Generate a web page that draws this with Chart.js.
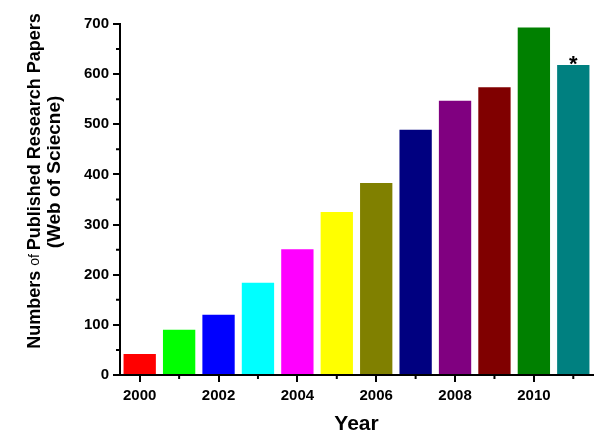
<!DOCTYPE html>
<html>
<head>
<meta charset="utf-8">
<script src="https://cdn.jsdelivr.net/npm/chart.js@4.4.1/dist/chart.umd.min.js"></script>
<style>
  html, body { margin: 0; padding: 0; background: #fff; }
  #wrap { width: 600px; height: 437px; position: relative; }
</style>
</head>
<body>
<div id="wrap"><canvas id="chart"></canvas></div>
<script>
const years = ["2000", "2001", "2002", "2003", "2004", "2005", "2006", "2007", "2008", "2009", "2010", "2011"];
const papers = [42, 90, 120, 184, 251, 325, 383, 489, 547, 574, 693, 618];
const barColors = ["#ff0000", "#00ff00", "#0000ff", "#00ffff", "#ff00ff", "#ffff00",
  "#808000", "#000080", "#800080", "#800000", "#008000", "#008080"];
const markedYears = ["2011"];

const FONT = "'Liberation Sans', Arial, sans-serif";

// short minor ticks + the y title (mixed weights) + asterisk
const extras = {
  id: "extras",
  afterDraw(chart) {
    const c = chart.ctx;
    const x = chart.scales.x, y = chart.scales.y;
    c.save();
    c.strokeStyle = "#000";
    c.lineWidth = 2;
    c.beginPath();
    x.ticks.forEach((t, i) => {
      if (i % 2 === 1) {
        const px = x.getPixelForTick(i);
        c.moveTo(px, y.bottom);
        c.lineTo(px, y.bottom + 4);
      }
    });
    y.ticks.forEach((t, i) => {
      if (t.value % 100 !== 0) {
        const py = y.getPixelForValue(t.value);
        c.moveTo(x.left, py);
        c.lineTo(x.left - 4, py);
      }
    });
    c.stroke();

    // asterisk
    const meta = chart.getDatasetMeta(0);
    c.fillStyle = "#000";
    c.font = "bold 22px " + FONT;
    c.textAlign = "center";
    c.textBaseline = "alphabetic";
    markedYears.forEach(yr => {
      const el = meta.data[years.indexOf(yr)];
      c.fillText("*", el.x, el.y + 6);
    });

    // y title, two lines, rotated
    c.rotate(-Math.PI / 2);
    const parts = [["Numbers ", "bold 18px "], ["of ", "14px "], ["Published Research Papers", "bold 18px "]];
    let w = 0;
    parts.forEach(p => { c.font = p[1] + FONT; w += c.measureText(p[0]).width; });
    let sx = -181 - w / 2;
    c.textAlign = "left";
    c.textBaseline = "middle";
    parts.forEach(p => {
      c.font = p[1] + FONT;
      c.fillText(p[0], sx, 35);
      sx += c.measureText(p[0]).width;
    });
    c.font = "bold 19px " + FONT;
    c.textAlign = "center";
    c.fillText("(Web of Sciecne)", -172, 55);
    c.restore();
  }
};

new Chart(document.getElementById("chart"), {
  type: "bar",
  data: {
    labels: years,
    datasets: [{
      data: papers,
      backgroundColor: barColors,
      borderWidth: 0,
      categoryPercentage: 1,
      barPercentage: 0.82,
    }],
  },
  options: {
    responsive: true,
    maintainAspectRatio: false,
    animation: false,
    layout: { padding: { top: 24, right: 7, left: 0, bottom: 0 } },
    plugins: {
      legend: { display: false },
      tooltip: { enabled: false },
    },
    scales: {
      x: {
        offset: true,
        grid: {
          offset: false,
          drawOnChartArea: false,
          tickLength: 7,
          lineWidth: 2,
          tickColor: ctx => (ctx.index % 2 === 0 ? "#000" : "rgba(0,0,0,0)"),
        },
        border: { display: true, color: "#000", width: 2 },
        ticks: {
          color: "#000",
          font: { family: FONT, size: 15, weight: "bold" },
          padding: 5,
          maxRotation: 0,
          autoSkip: false,
          callback: (v, i) => (i % 2 === 0 ? years[i] : ""),
        },
        title: {
          display: true,
          text: "Year",
          color: "#000",
          font: { family: FONT, size: 21, weight: "bold" },
          padding: { top: 4, bottom: 0 },
        },
        afterFit: s => { s.height = 62; },
      },
      y: {
        min: 0,
        max: 700,
        grid: {
          drawOnChartArea: false,
          tickLength: 7,
          lineWidth: 2,
          tickColor: ctx => (ctx.tick && ctx.tick.value % 100 === 0 ? "#000" : "rgba(0,0,0,0)"),
        },
        border: { display: true, color: "#000", width: 2 },
        ticks: {
          stepSize: 50,
          color: "#000",
          font: { family: FONT, size: 15, weight: "bold" },
          padding: 4,
          callback: v => (v % 100 === 0 ? v : ""),
        },
        afterFit: s => { s.width = 120; },
      },
    },
  },
  plugins: [extras],
});
</script>
</body>
</html>
